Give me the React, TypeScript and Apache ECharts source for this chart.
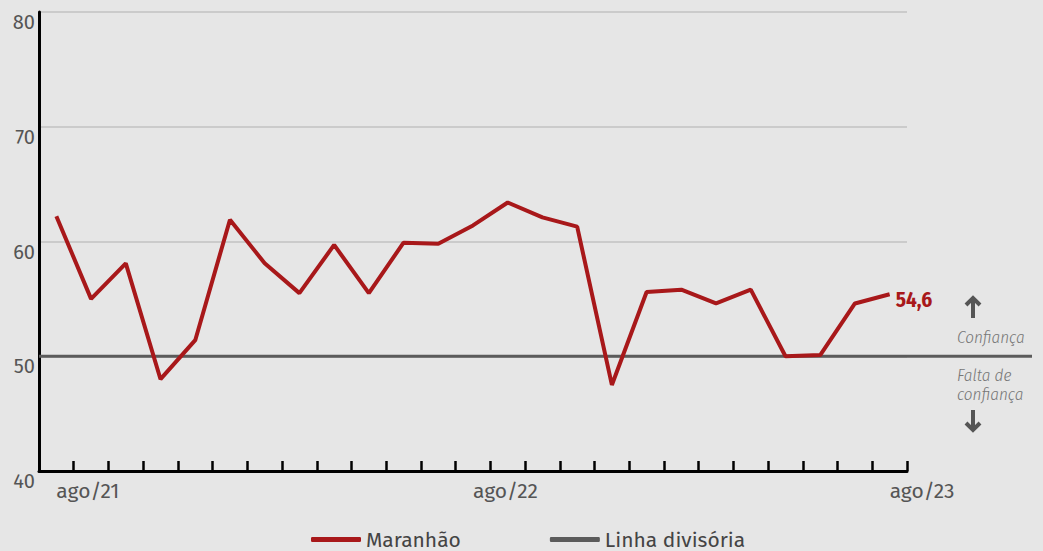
import React, { useEffect, useRef } from "react";
import * as echarts from "echarts";

const months = [
  "ago/21", "set/21", "out/21", "nov/21", "dez/21", "jan/22", "fev/22", "mar/22", "abr/22",
  "mai/22", "jun/22", "jul/22", "ago/22", "set/22", "out/22", "nov/22", "dez/22", "jan/23",
  "fev/23", "mar/23", "abr/23", "mai/23", "jun/23", "jul/23", "ago/23",
];
const maranhao = [
  62.2, 55.0, 58.1, 48.0, 51.4, 61.9, 58.1, 55.5, 59.7, 55.5, 59.9, 59.8, 61.4,
  63.4, 62.1, 61.3, 47.5, 55.6, 55.8, 54.6, 55.8, 50.0, 50.1, 54.6, 55.4,
];
const lastLabel = "54,6";
const dividerValue = 50;
const yTicks = { min: 40, max: 80, interval: 10 };
const shownLabelIdx = [0, 12, 24];

const FONT = "'Fira Sans', 'Fira Sans Condensed', 'Noto Sans', sans-serif";
const FONT_C = "'Fira Sans Condensed', 'Fira Sans', 'Noto Sans', sans-serif";

export default function App() {
  const ref = useRef<HTMLDivElement>(null);
  useEffect(() => {
    if (!ref.current) return;
    const chart = echarts.init(ref.current, null, { renderer: "svg" });
    const red = "#a8181a";
    const gray = "#5b5b5b";
    const note = { fontSize: 17, fontStyle: "italic", fontWeight: 300, fill: "#777", fontFamily: FONT_C, verticalAlign: "middle" };
    chart.setOption({
      animation: false,
      backgroundColor: "#e6e6e6",
      textStyle: { fontFamily: FONT },
      grid: [
        { left: 39, right: 136, top: 12, bottom: 80 },
        { left: 39, right: 11, top: 12, bottom: 80 },
      ],
      xAxis: [
        {
          type: "category",
          gridIndex: 0,
          data: months,
          boundaryGap: true,
          axisLine: { lineStyle: { color: "#000", width: 3 } },
          axisTick: { show: true, inside: true, length: 10, interval: 0, lineStyle: { color: "#000", width: 2.5 } },
          axisLabel: {
            interval: (i: number) => shownLabelIdx.includes(i),
            align: "left",
            margin: 9,
            color: "#555",
            fontSize: 21,
            fontFamily: FONT,
          },
        },
        { type: "value", gridIndex: 1, min: 0, max: 1, show: false },
      ],
      yAxis: [
        {
          type: "value",
          gridIndex: 0,
          min: yTicks.min,
          max: yTicks.max,
          interval: yTicks.interval,
          axisLine: { show: true, lineStyle: { color: "#000", width: 3 } },
          axisTick: { show: false },
          splitLine: { lineStyle: { color: "#c2c2c2", width: 1.5 } },
          axisLabel: { verticalAlign: "top", margin: 4, color: "#555", fontSize: 20, fontFamily: FONT },
        },
        { type: "value", gridIndex: 1, min: yTicks.min, max: yTicks.max, show: false },
      ],
      legend: {
        data: ["Maranhão", "Linha divisória"],
        left: 311,
        top: 529,
        padding: 0,
        itemWidth: 50,
        itemHeight: 5,
        icon: "roundRect",
        itemGap: 89,
        textStyle: { fontSize: 21, color: "#444", fontFamily: FONT },
      },
      series: [
        {
          name: "Linha divisória",
          type: "line",
          xAxisIndex: 1,
          yAxisIndex: 1,
          data: [[0, dividerValue], [1, dividerValue]],
          symbol: "none",
          color: gray,
          lineStyle: { color: gray, width: 3 },
          z: 1,
          silent: true,
        },
        {
          name: "Maranhão",
          type: "line",
          xAxisIndex: 0,
          yAxisIndex: 0,
          data: maranhao,
          symbol: "none",
          color: red,
          lineStyle: { color: red, width: 4 },
          z: 3,
          endLabel: {
            show: true,
            formatter: () => lastLabel,
            color: red,
            fontWeight: "bold",
            fontSize: 21,
            fontFamily: FONT_C,
            distance: 6,
            offset: [0, 6],
          },
        },
      ],
      graphic: [
        { type: "line", shape: { x1: 973, y1: 298, x2: 973, y2: 318 }, style: { stroke: "#555", lineWidth: 4 } },
        { type: "polyline", shape: { points: [[966, 305], [973, 298], [980, 305]] }, style: { stroke: "#555", lineWidth: 4, fill: null } },
        { type: "text", x: 957, y: 337, style: { ...note, text: "Confiança" } },
        { type: "text", x: 957, y: 375, style: { ...note, text: "Falta de" } },
        { type: "text", x: 957, y: 394, style: { ...note, text: "confiança" } },
        { type: "line", shape: { x1: 973, y1: 410, x2: 973, y2: 430 }, style: { stroke: "#555", lineWidth: 4 } },
        { type: "polyline", shape: { points: [[966, 423], [973, 430], [980, 423]] }, style: { stroke: "#555", lineWidth: 4, fill: null } },
      ],
    });
    return () => chart.dispose();
  }, []);
  return (
    <div
      ref={ref}
      style={{ position: "fixed", left: 0, top: 0, width: 1043, height: 551 }}
    />
  );
}
